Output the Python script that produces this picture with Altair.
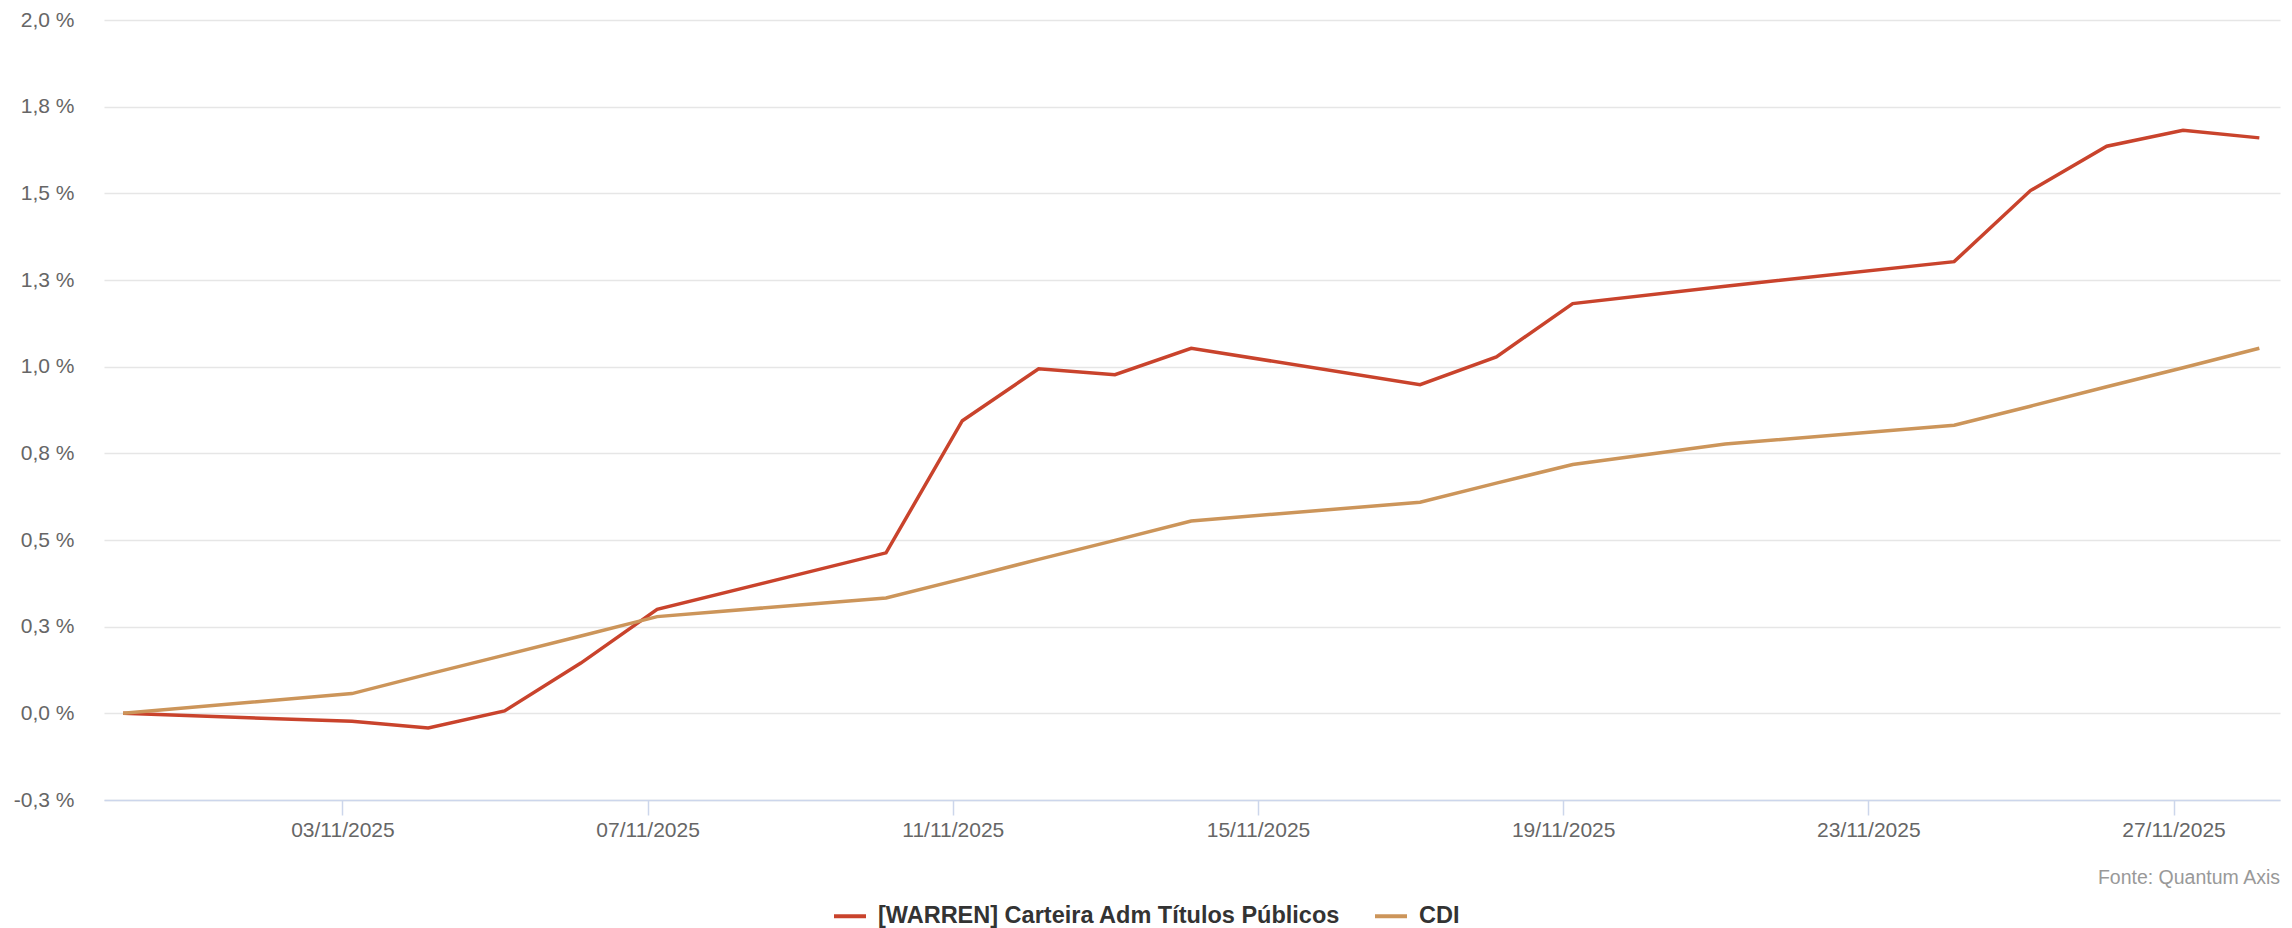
import altair as alt
import pandas as pd

# ---- data ----
dates = ["2025-10-31", "2025-11-03", "2025-11-04", "2025-11-05", "2025-11-06",
         "2025-11-07", "2025-11-10", "2025-11-11", "2025-11-12", "2025-11-13",
         "2025-11-14", "2025-11-17", "2025-11-18", "2025-11-19", "2025-11-21",
         "2025-11-24", "2025-11-25", "2025-11-26", "2025-11-27", "2025-11-28"]
warren = [0.0, -0.023, -0.042, 0.007, 0.145, 0.300, 0.463, 0.844, 0.994, 0.977,
          1.053, 0.948, 1.028, 1.182, 1.232, 1.303, 1.508, 1.636, 1.682, 1.660]
cdi = [0.0, 0.057, 0.113, 0.168, 0.223, 0.279, 0.333, 0.388, 0.444, 0.499,
       0.555, 0.609, 0.664, 0.718, 0.777, 0.831, 0.886, 0.942, 0.997, 1.053]
series_names = ["[WARREN] Carteira Adm Títulos Públicos", "CDI"]
series_colors = ["#C9432C", "#CC955A"]
y_ticks = [-0.25, 0.0, 0.25, 0.5, 0.75, 1.0, 1.25, 1.5, 1.75, 2.0]
x_tick_days = [3, 7, 11, 15, 19, 23, 27]   # November 2025
source_note = "Fonte: Quantum Axis"

# ---- table ----
rows = []
for d, w, c in zip(dates, warren, cdi):
    ts = d + "T03:00:00Z"   # 00:00 Brasília time
    rows.append({"date": ts, "series": series_names[0], "value": w})
    rows.append({"date": ts, "series": series_names[1], "value": c})
df = pd.DataFrame(rows)

FONT = "Liberation Sans"
TOP = 12
PW, PH = 2176, 800 - 8 - TOP

x_enc = alt.X(
    "date:T",
    scale=alt.Scale(
        type="utc",
        domain=[alt.DateTime(year=2025, month=10, date=30, hours=21, utc=True),
                alt.DateTime(year=2025, month=11, date=28, hours=9, minutes=30, utc=True)],
    ),
    axis=alt.Axis(
        title=None,
        values=[alt.DateTime(year=2025, month=11, date=d, utc=True) for d in x_tick_days],
        labelExpr="utcFormat(datum.value, '%d/%m/%Y')",
        grid=False,
        domainColor="#CCD6EB", domainWidth=1.5,
        tickColor="#CCD6EB", tickWidth=1.5, tickSize=15,
        labelPadding=4, labelFont=FONT, labelFontSize=21, labelColor="#666666",
        labelBaseline="top",
    ),
)

y_enc = alt.Y(
    "value:Q",
    scale=alt.Scale(domain=[-0.25, 2.0], nice=False, zero=False),
    axis=alt.Axis(
        title=None,
        values=y_ticks,
        labelExpr="replace(replace(format(datum.value, '.1f'), '.', ','), '\u2212', '-') + ' %'",
        grid=True, gridColor="#E6E6E6", gridWidth=1.5,
        domain=False, ticks=False, tickSize=0,
        labelPadding=30, labelFont=FONT, labelFontSize=21, labelColor="#666666",
    ),
)

lines = alt.Chart(df).mark_line(strokeWidth=3.5, clip=True).encode(
    x=x_enc,
    y=y_enc,
    color=alt.Color(
        "series:N",
        scale=alt.Scale(domain=series_names, range=series_colors),
        legend=alt.Legend(
            title=None, orient="none", direction="horizontal",
            legendX=728, legendY=915 - 8 - TOP - 17,
            symbolType="stroke", symbolSize=1024, symbolStrokeWidth=4,
            labelFont=FONT, labelFontSize=23.5, labelFontWeight="bold",
            labelColor="#333333", labelOffset=10, columnPadding=26,
            labelLimit=0, padding=0,
        ),
    ),
    order=alt.Order("date:T"),
)

note = alt.Chart(pd.DataFrame({"t": [source_note]})).mark_text(
    align="right", baseline="middle", font=FONT, fontSize=19.5, color="#999999"
).encode(text="t:N", x=alt.value(PW), y=alt.value(878 - 8 - TOP))

chart = alt.layer(lines, note).properties(
    width=PW, height=PH,
    padding={"left": 96, "top": TOP, "right": 4, "bottom": 920 - TOP - PH},
    autosize=alt.AutoSizeParams(type="none"),
    background="white",
).configure_view(stroke=None)

chart.save("out.html", embed_options={"renderer": "svg", "actions": False})
